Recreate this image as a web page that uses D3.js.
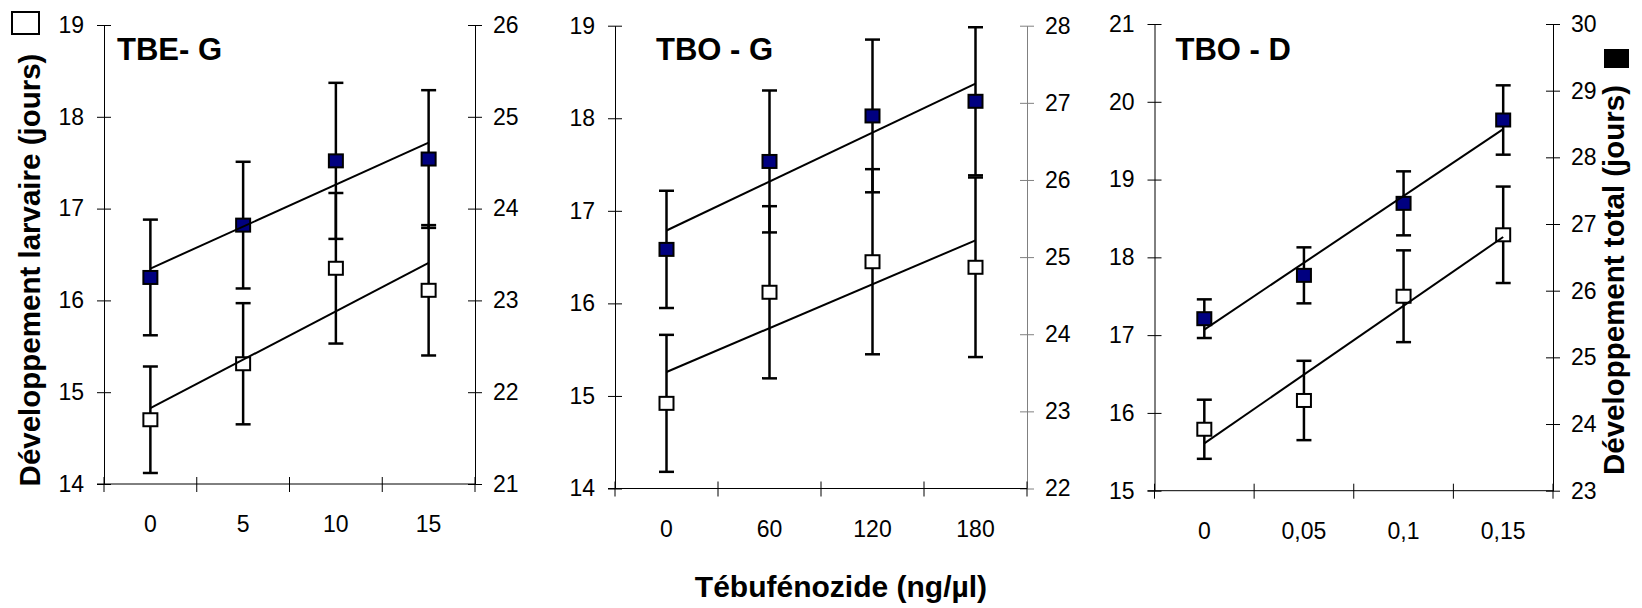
<!DOCTYPE html>
<html lang="fr">
<head>
<meta charset="utf-8">
<title>Tébufénozide - développement</title>
<script src="https://cdn.jsdelivr.net/npm/d3@7"></script>
<style>
    body { margin: 0; background: #fff; }
    svg { display: block; font-family: "Liberation Sans", Arial, sans-serif; }
    .tick text { font-size: 23px; fill: #000; }
    .lbl { font-weight: bold; fill: #000; }
</style>
</head>
<body>
<div id="chart"></div>
<script>

// panel names and doses (tick labels)
const panelNames = ["TBE- G", "TBO - G", "TBO - D"];
const doseLabels = [["0", "5", "10", "15"], ["0", "60", "120", "180"], ["0", "0,05", "0,1", "0,15"]];
const doseValues = [[0, 5, 10, 15], [0, 60, 120, 180], [0, 0.05, 0.1, 0.15]];

// développement larvaire (open squares, left axis)
const larvalTBEG = [14.70, 15.31, 16.35, 16.11];
const larvalErrTBEG = [0.58, 0.66, 0.82, 0.71];
const larvalTBOG = [14.92, 16.12, 16.45, 16.39];
const larvalErrTBOG = [0.74, 0.93, 1.00, 0.97];
const larvalTBOD = [15.79, 16.16, 17.50, 18.29];
const larvalErrTBOD = [0.38, 0.51, 0.59, 0.62];

// développement total (filled squares, right axis)
const totalTBEG = [23.25, 23.82, 24.52, 24.54];
const totalErrTBEG = [0.63, 0.69, 0.85, 0.75];
const totalTBOG = [25.10, 26.24, 26.83, 27.02];
const totalErrTBOG = [0.76, 0.92, 0.99, 0.96];
const totalTBOD = [25.58, 26.23, 27.31, 28.56];
const totalErrTBOD = [0.29, 0.42, 0.48, 0.52];

// axis ranges
const leftDomains = [[14, 19], [14, 19], [15, 21]];
const rightDomains = [[21, 26], [22, 28], [23, 30]];

const larval = [larvalTBEG, larvalTBOG, larvalTBOD];
const larvalErr = [larvalErrTBEG, larvalErrTBOG, larvalErrTBOD];
const total = [totalTBEG, totalTBOG, totalTBOD];
const totalErr = [totalErrTBEG, totalErrTBOG, totalErrTBOD];

// where each panel sits on the page
const layout = [
    {left: 104, right: 475, top: 25, bottom: 484, titleX: 117, rightColor: "#000"},
    {left: 615, right: 1027, top: 25.7, bottom: 488.5, titleX: 656, rightColor: "#808080"},
    {left: 1154.5, right: 1553, top: 24, bottom: 490.7, titleX: 1175.5, rightColor: "#000"}
];

const W = 1642, H = 608;

const svg = d3.select("#chart").append("svg")
    .attr("width", W)
    .attr("height", H);

// least squares line, same as the excel trendline
function fit(xs, ys) {
    const mx = d3.mean(xs), my = d3.mean(ys);
    let num = 0, den = 0;
    xs.forEach((x, i) => { num += (x - mx) * (ys[i] - my); den += (x - mx) * (x - mx); });
    const b = num / den;
    return x => my + b * (x - mx);
}

panelNames.forEach((name, p) => {
    const L = layout[p];
    const g = svg.append("g");

    const x = d3.scaleBand()
        .domain(doseLabels[p])
        .range([L.left, L.right])
        .padding(0);
    const cx = d => x(d) + x.bandwidth() / 2;

    const yL = d3.scaleLinear().domain(leftDomains[p]).range([L.bottom, L.top]);
    const yR = d3.scaleLinear().domain(rightDomains[p]).range([L.bottom, L.top]);

    // left axis
    const gl = g.append("g")
        .attr("transform", "translate(" + L.left + ",0)")
        .call(d3.axisLeft(yL)
            .tickValues(d3.range(leftDomains[p][0], leftDomains[p][1] + 1))
            .tickFormat(d3.format("d"))
            .tickSizeInner(7).tickSizeOuter(0).tickPadding(13))
        .attr("font-family", null).attr("font-size", null);
    gl.selectAll(".tick line").attr("x1", 7).attr("x2", -7).attr("stroke", "#000");
    gl.select(".domain").attr("stroke", "#000");

    // right axis
    const gr = g.append("g")
        .attr("transform", "translate(" + L.right + ",0)")
        .call(d3.axisRight(yR)
            .tickValues(d3.range(rightDomains[p][0], rightDomains[p][1] + 1))
            .tickFormat(d3.format("d"))
            .tickSizeInner(7).tickSizeOuter(0).tickPadding(11))
        .attr("font-family", null).attr("font-size", null);
    gr.selectAll(".tick line").attr("x1", -7).attr("x2", 7).attr("stroke", L.rightColor);
    gr.select(".domain").attr("stroke", L.rightColor);

    // x axis : labels in the middle of each band, ticks between bands
    const gx = g.append("g")
        .attr("transform", "translate(0," + L.bottom + ")")
        .call(d3.axisBottom(x).tickSize(0).tickPadding(32))
        .attr("font-family", null).attr("font-size", null);
    gx.select(".domain").remove();
    gx.selectAll(".tick line").remove();

    const bounds = doseLabels[p].map(d => x(d)).concat([L.right]);
    g.append("line")
        .attr("x1", L.left - 7).attr("x2", L.right)
        .attr("y1", L.bottom).attr("y2", L.bottom)
        .attr("stroke", "#000");
    g.selectAll(".xtick")
        .data(bounds)
        .enter().append("line")
        .attr("x1", d => d).attr("x2", d => d)
        .attr("y1", L.bottom - 7).attr("y2", L.bottom + 8)
        .attr("stroke", "#000");

    // panel title
    g.append("text")
        .attr("class", "lbl")
        .attr("x", L.titleX)
        .attr("y", 60)
        .attr("font-size", 31)
        .text(name);

    const series = [
        {vals: larval[p], errs: larvalErr[p], y: yL, fill: "#fff"},
        {vals: total[p], errs: totalErr[p], y: yR, fill: "#000080"}
    ];

    // error bars
    series.forEach(s => {
        const eb = g.append("g").attr("stroke", "#000").attr("stroke-width", 2.5);
        doseLabels[p].forEach((d, i) => {
            const top = s.y(s.vals[i] + s.errs[i]), bot = s.y(s.vals[i] - s.errs[i]);
            eb.append("line").attr("x1", cx(d)).attr("x2", cx(d)).attr("y1", top).attr("y2", bot);
            eb.append("line").attr("x1", cx(d) - 7.5).attr("x2", cx(d) + 7.5).attr("y1", top).attr("y2", top);
            eb.append("line").attr("x1", cx(d) - 7.5).attr("x2", cx(d) + 7.5).attr("y1", bot).attr("y2", bot);
        });
    });

    // markers
    series.forEach(s => {
        g.selectAll(null)
            .data(s.vals)
            .enter().append("rect")
            .attr("x", (v, i) => cx(doseLabels[p][i]) - 7)
            .attr("y", v => s.y(v) - 6.5)
            .attr("width", 14)
            .attr("height", 13)
            .attr("fill", s.fill)
            .attr("stroke", "#000")
            .attr("stroke-width", 2);
    });

    // trend lines
    series.forEach(s => {
        const f = fit(doseValues[p], s.vals);
        const n = doseLabels[p].length;
        g.append("line")
            .attr("x1", cx(doseLabels[p][0])).attr("y1", s.y(f(doseValues[p][0])))
            .attr("x2", cx(doseLabels[p][n - 1])).attr("y2", s.y(f(doseValues[p][n - 1])))
            .attr("stroke", "#000")
            .attr("stroke-width", 2);
    });
});

// axis titles and the two legend squares
svg.append("text")
    .attr("class", "lbl")
    .attr("font-size", 29.5)
    .attr("text-anchor", "middle")
    .attr("transform", "translate(40,270) rotate(-90)")
    .text("Développement larvaire (jours)");

svg.append("text")
    .attr("class", "lbl")
    .attr("font-size", 29.5)
    .attr("text-anchor", "middle")
    .attr("transform", "translate(1624,280) rotate(-90)")
    .text("Développement total (jours)");

svg.append("text")
    .attr("class", "lbl")
    .attr("font-size", 30)
    .attr("text-anchor", "middle")
    .attr("x", 841)
    .attr("y", 597)
    .text("Tébufénozide (ng/µl)");

svg.append("rect")
    .attr("x", 12).attr("y", 12).attr("width", 27).attr("height", 22)
    .attr("fill", "#fff").attr("stroke", "#000").attr("stroke-width", 2);

svg.append("rect")
    .attr("x", 1604).attr("y", 49).attr("width", 25).attr("height", 19)
    .attr("fill", "#000");

</script>
</body>
</html>
